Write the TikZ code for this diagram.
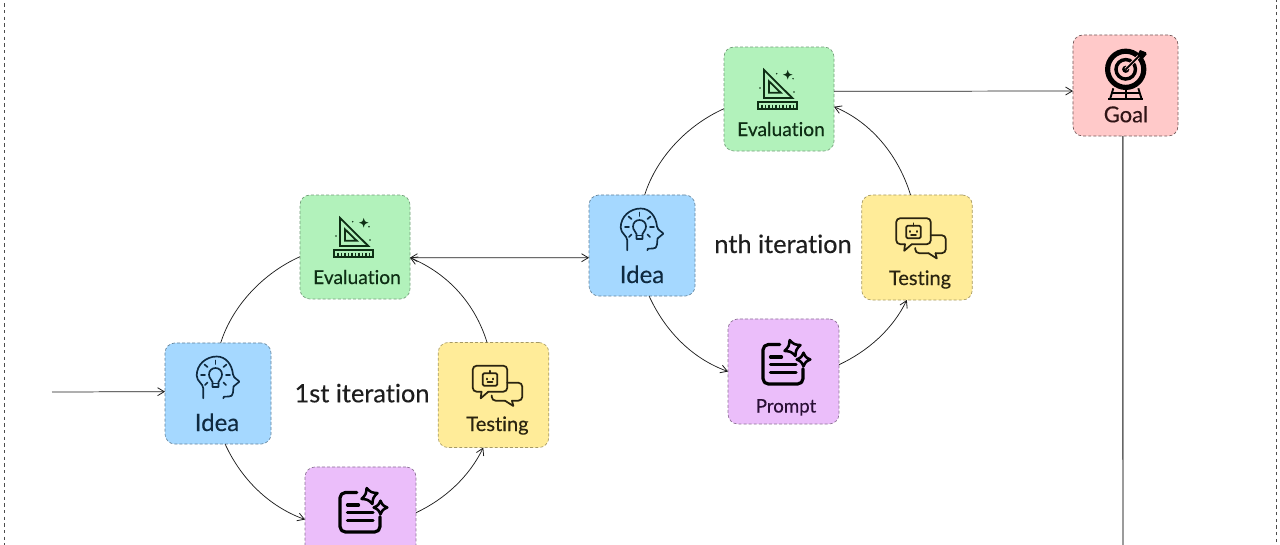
\documentclass[tikz,border=0pt]{standalone}
\usepackage{fontspec}
\setmainfont{Lato}[Ligatures=NoCommon,FakeBold=0.25]
\usetikzlibrary{arrows.meta}
\definecolor{ink}{HTML}{1E1E1E}
\definecolor{bluefill}{HTML}{A5D8FF}
\definecolor{greenfill}{HTML}{B2F2BB}
\definecolor{yellowfill}{HTML}{FFEC99}
\definecolor{purplefill}{HTML}{EBBEFA}
\definecolor{redfill}{HTML}{FFC9C9}
\definecolor{blueink}{HTML}{0F2A40}
\definecolor{greenink}{HTML}{0E2E14}
\definecolor{yellowink}{HTML}{2A2410}
\definecolor{purpleink}{HTML}{2A0F35}
\definecolor{redink}{HTML}{301416}
\newcommand{\sparkshape}[4]{({#1},{#2-#3}) .. controls ({#1+#4*#3},{#2-#4*#3}) .. ({#1+#3},{#2}) .. controls ({#1+#4*#3},{#2+#4*#3}) .. ({#1},{#2+#3}) .. controls ({#1-#4*#3},{#2+#4*#3}) .. ({#1-#3},{#2}) .. controls ({#1-#4*#3},{#2-#4*#3}) .. cycle}
\tikzset{
  cardbox/.style={rectangle,rounded corners=7.5pt,inner sep=0pt,outer sep=0pt,line width=.5pt,dash pattern=on 2.2pt off 1.6pt},
  bluecard/.style={cardbox,fill=bluefill,draw=bluefill!60!black,minimum width=79.5pt,minimum height=75.8pt},
  greencard/.style={cardbox,fill=greenfill,draw=greenfill!65!black,minimum width=82.5pt,minimum height=78pt},
  yellowcard/.style={cardbox,fill=yellowfill,draw=yellowfill!65!black,minimum width=82.9pt,minimum height=78.8pt},
  purplecard/.style={cardbox,fill=purplefill,draw=purplefill!60!black,minimum width=83.2pt,minimum height=78.8pt},
  redcard/.style={cardbox,fill=redfill,draw=redfill!45!black,minimum width=78.8pt,minimum height=75.8pt},
  cardtext/.style={anchor=base,inner sep=0pt,font=\fontsize{#1}{#1}\selectfont},
  conn/.style={draw=ink,line width=.55pt,-{Straight Barb[length=5pt,width=6pt,line width=.6pt]}},
  plainconn/.style={draw=ink,line width=.55pt},
  bothconn/.style={draw=ink,line width=.55pt,{Straight Barb[length=5pt,width=6pt,line width=.6pt]}-{Straight Barb[length=5pt,width=6pt,line width=.6pt]}},
  ideaicon/.pic={
    \begin{scope}[draw=blueink,line width=1.25pt,line cap=round,line join=round]
    \draw (-14.7,4.8) -- (-14.7,-5) .. controls (-14.7,-10) and (-21.3,-12) .. (-21.3,-18)
      .. controls (-21.3,-29) and (-12,-37) .. (-1.3,-37)
      .. controls (8,-37) and (14,-29) .. (15,-19)
      .. controls (15.5,-15) and (21.5,-13) .. (21.3,-11.8) -- (15.5,-7) -- (15,-1)
      .. controls (15,2) and (13,3) .. (11,3) -- (6,3.2) -- (5.3,4.8);
    \draw (-5.5,-6.5) -- (.5,-6.5) -- (.5,-11.5) .. controls (1,-14) and (4,-15) .. (4,-19)
      .. controls (4,-23) and (1,-25.5) .. (-2.5,-25.5)
      .. controls (-6,-25.5) and (-9,-23) .. (-9,-19)
      .. controls (-9,-15) and (-6,-14) .. (-5.5,-11.5) -- cycle;
    \draw (-5.5,-10) -- (.5,-10);
    \draw (-2.5,-33) -- (-2.5,-29.5);
    \draw (-13.5,-29) -- (-10.5,-26.5);
    \draw (8.5,-29) -- (5.5,-26.5);
    \draw (-17,-18.5) -- (-13,-18.5);
    \draw (12,-18.5) -- (8,-18.5);
    \draw (-13,-8.5) -- (-10.5,-11);
    \draw (8,-8.5) -- (5.5,-11);
    \end{scope}
  },
  evalicon/.pic={
    \begin{scope}[draw=greenink,line width=1.35pt,line join=miter]
    \draw (-15,-29) -- (13.3,-1) -- (-15,-1) -- cycle;
    \draw (-10,-17.7) -- (1.7,-6.3) -- (-10,-6.3) -- cycle;
    \draw (-21,3) rectangle (17.7,9.7);
    \foreach \tx in {-17,-13.5,-10,-6.5,-3,.5,4,7.5,11,14.5}
      \draw[line width=.8pt] (\tx,5.5) -- (\tx,9.7);
    \fill[greenink] \sparkshape{8.7}{-24.3}{4.8}{.22};
    \fill[greenink] (-2.3,-25.3) circle (.8);
    \fill[greenink] (14,-20.3) circle (.8);
    \fill[greenink] (-19,-11) circle (.8);
    \fill[greenink] (15,-7) circle (.8);
    \end{scope}
  },
  testicon/.pic={
    \begin{scope}[draw=yellowink,line width=1.3pt,line join=round,line cap=round]
    \draw[rounded corners=3pt] (-5.2,-3.3) -- (13.8,-3.3) -- (13.8,-29.3) -- (-20.8,-29.3) -- (-20.8,-3.3) -- (-12,-3.3);
    \draw (-12,-3.3) -- (-12.8,3.3) -- (-5.2,-3.3);
    \draw[rounded corners=3pt] (13.8,-12.3) -- (28.8,-12.3) -- (28.8,5.7) -- (18.5,5.7);
    \draw (18.5,5.7) -- (19.8,11) -- (11.5,5.7);
    \draw[rounded corners=3pt] (11.5,5.7) -- (-1.8,5.7) -- (-1.8,.5);
    \draw[rounded corners=1pt] (-10.8,-21.7) rectangle (3.8,-9.3);
    \draw (-3.5,-24.3) -- (-3.5,-21.7);
    \draw (-6.8,-16.5) -- (-6.8,-15.5);
    \draw (-.2,-16.5) -- (-.2,-15.5);
    \draw (-6,-12.7) -- (-1,-12.7);
    \end{scope}
  },
  promptfigure/.pic={
    \begin{scope}[draw=black,line width=2.4pt,line cap=round,line join=round]
    \draw[rounded corners=4pt] (-3.8,-27) -- (-20.5,-27) -- (-20.5,12.5) -- (19.5,12.5) -- (19.5,-2.8);
    \draw (-13,-14.5) -- (-2,-14.5);
    \draw (-13,-6.8) -- (12.5,-6.8);
    \draw (-13,.8) -- (12.5,.8);
    \draw[line width=1.9pt,rotate around={20:(9,-23.5)}] \sparkshape{9}{-23.5}{8.5}{.32};
    \draw[line width=1.9pt] \sparkshape{20}{-12}{6.8}{.32};
    \end{scope}
  },
  goalicon/.pic={
    \begin{scope}
    \fill[black,even odd rule] (.2,-16.2) circle (20.7) (.2,-16.2) circle (15.5);
    \fill[black,even odd rule] (.2,-16.2) circle (11.5) (.2,-16.2) circle (8);
    \fill[black] (.2,-16.2) circle (3.6);
    \draw[redfill,line width=2.6pt] (.2,-16.2) -- (14,-30);
    \draw[black,line width=1.3pt] (.2,-16.2) -- (15,-31);
    \fill[black] (11.8,-30.5) -- (14.5,-35.5) -- (20.5,-33.2) -- (21,-31) -- (16.2,-25.5) -- cycle;
    \draw[black,line width=1.4pt] (-17.2,13.8) -- (17.8,13.8);
    \draw[black,line width=1.4pt] (-12.2,2.8) -- (-15.5,13.8);
    \draw[black,line width=1.4pt] (12.8,2.8) -- (16.2,13.8);
    \draw[black,line width=1.4pt] (-14,7.2) -- (14,7.2);
    \draw[black,line width=1.4pt] (.2,4.5) -- (.2,13.8);
    \end{scope}
  }
}
\begin{document}
\begin{tikzpicture}[x=.75pt,y=-.75pt]
\useasboundingbox (0,0) rectangle (1280,544);
\clip (0,0) rectangle (1280,544);
\fill[white] (0,0) rectangle (1280,544);
\draw[draw=black!70,line width=.75pt,dash pattern=on 2.5pt off 2.5pt] (4,-10) rectangle (1276,560);

% first iteration
\node[bluecard] (i1) at (218,393.5) {};
\node[greencard] (e1) at (355,247) {};
\node[yellowcard] (t1) at (493.5,395) {};
\node[purplecard] (p1) at (360.5,519.5) {};
% nth iteration
\node[bluecard] (i2) at (642,245.5) {};
\node[greencard] (e2) at (779,99) {};
\node[yellowcard] (t2) at (917,247.5) {};
\node[purplecard] (p2) at (783.5,371.5) {};
% goal
\node[redcard] (g) at (1125.5,85.5) {};

\coordinate (startpt) at (52,392);
\coordinate (goalend) at (1123,560);

\pic at (i1.center) {ideaicon};
\pic at (e1.center) {evalicon};
\pic at (t1.center) {testicon};
\pic at (p1.center) {promptfigure};
\pic at (i2.center) {ideaicon};
\pic at (e2.center) {evalicon};
\pic at (t2.center) {testicon};
\pic at (p2.center) {promptfigure};
\pic at (g.center) {goalicon};

\node[cardtext=14.4, text=greenink] (le1) at (357,284) {Evaluation};
\node[cardtext=18, text=blueink] (li1) at (217,431) {Idea};
\node[cardtext=15, text=yellowink] (lt1) at (497.5,431) {Testing};
\node[cardtext=19, text=ink] (it1) at (362,402.3) {1st iteration};
\node[cardtext=14.4, text=greenink] (le2) at (781,136) {Evaluation};
\node[cardtext=18, text=blueink] (li2) at (642,283) {Idea};
\node[cardtext=15, text=yellowink] (lt2) at (920,285) {Testing};
\node[cardtext=14, text=purpleink] (lp2) at (786,412.5) {Prompt};
\node[cardtext=19, text=ink] (it2) at (783,253) {nth iteration};
\node[cardtext=16.5, text=redink] (lg) at (1126,122.3) {Goal};

\draw[conn] (startpt) -- (i1.178);
\draw[plainconn] (i1.87) .. controls +(12,-38) and +(-36,16) .. (e1.190);
\draw[conn] (i1.278) .. controls +(16,35) and +(-36,-13) .. (p1.180);
\draw[conn] (p1.7) .. controls +(29,-13.5) and +(-14,29) .. (t1.259);
\draw[conn] (t1.97) .. controls +(-12,-39) and +(38,16) .. (e1.349);
\draw[bothconn] (e1.349) -- (i2.193);
\draw[plainconn] (i2.87) .. controls +(12,-38) and +(-36,16) .. (e2.190);
\draw[conn] (i2.278) .. controls +(16,35) and +(-36,-13) .. (p2.180);
\draw[conn] (p2.7) .. controls +(29,-13.5) and +(-14,29) .. (t2.259);
\draw[conn] (t2.97) .. controls +(-12,-39) and +(38,16) .. (e2.352);
\draw[conn] (e2.8) -- (g.186);
\draw[draw=black!60,line width=1.1pt] (g.267) -- (goalend);
\end{tikzpicture}
\end{document}
